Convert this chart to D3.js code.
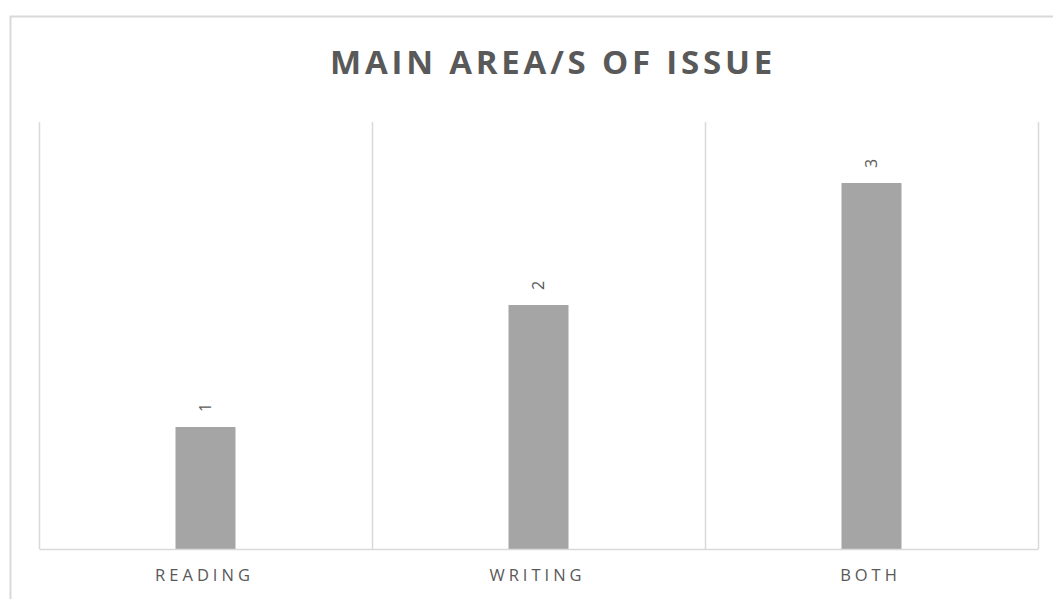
<!DOCTYPE html>
<html>
<head>
<meta charset="utf-8">
<script src="https://cdn.jsdelivr.net/npm/d3@7/dist/d3.min.js"></script>
<style>
  html, body { margin: 0; padding: 0; background: #fff; }
  svg { display: block; }
</style>
</head>
<body>
<svg id="chart" width="1053" height="599"></svg>
<script>
// Chart content
const chartTitle = "MAIN AREA/S OF ISSUE";
const categories = ["READING", "WRITING", "BOTH"];
const values = [1, 2, 3];
const yMax = 3.5;

const W = 1053, H = 599;
const svg = d3.select("#chart");

// Frame around the whole chart (extends past the right and bottom edges)
svg.append("rect")
  .attr("x", 10.5).attr("y", 16.5)
  .attr("width", W + 20).attr("height", H + 20)
  .attr("fill", "#fff")
  .attr("stroke", "#d9d9d9").attr("stroke-width", 2);

const plot = { left: 39, right: 1038, top: 122, bottom: 549 };

const x = d3.scaleBand()
  .domain(categories)
  .range([plot.left, plot.right])
  .paddingInner(0).paddingOuter(0);

const y = d3.scaleLinear()
  .domain([0, yMax])
  .range([plot.bottom, plot.top]);

// Vertical category separators
const bounds = categories.map(c => x(c)).concat([plot.right]);
svg.append("g").selectAll("line")
  .data(bounds)
  .join("line")
  .attr("x1", d => Math.round(d) + 0.5).attr("x2", d => Math.round(d) + 0.5)
  .attr("y1", plot.top).attr("y2", plot.bottom)
  .attr("stroke", "#d9d9d9").attr("stroke-width", 1.5);

// Bars
const barW = 60;
svg.append("g").selectAll("rect")
  .data(values)
  .join("rect")
  .attr("x", (d, i) => x(categories[i]) + x.bandwidth() / 2 - barW / 2)
  .attr("y", d => y(d))
  .attr("width", barW)
  .attr("height", d => y(0) - y(d))
  .attr("fill", "#a5a5a5");

// Category axis
const xAxis = d3.axisBottom(x).tickSize(0).tickPadding(20);
const ax = svg.append("g")
  .attr("transform", `translate(0,${plot.bottom})`)
  .call(xAxis);
ax.select(".domain").attr("stroke", "#d9d9d9").attr("stroke-width", 1.5);
ax.selectAll("text")
  .attr("fill", "#595959")
  .style("font-family", "'Open Sans', sans-serif")
  .style("font-size", "16.5px")
  .style("letter-spacing", "4px")
  .attr("dx", "-1px")
  .attr("dy", "0.71em");

// Rotated value labels above each bar
svg.append("g").selectAll("text")
  .data(values)
  .join("text")
  .attr("transform", (d, i) => {
    const cx = x(categories[i]) + x.bandwidth() / 2;
    return `translate(${cx},${y(d) - 15}) rotate(-90)`;
  })
  .attr("text-anchor", "start")
  .attr("dy", "0.35em")
  .attr("fill", "#595959")
  .style("font-family", "'Open Sans', sans-serif")
  .style("font-size", "16px")
  .text(d => d);

// Title
svg.append("text")
  .attr("x", 553).attr("y", 74)
  .attr("text-anchor", "middle")
  .attr("fill", "#595959")
  .style("font-family", "'Open Sans', sans-serif")
  .style("font-weight", "bold")
  .style("font-size", "33px")
  .style("letter-spacing", "3.8px")
  .text(chartTitle);
</script>
</body>
</html>
